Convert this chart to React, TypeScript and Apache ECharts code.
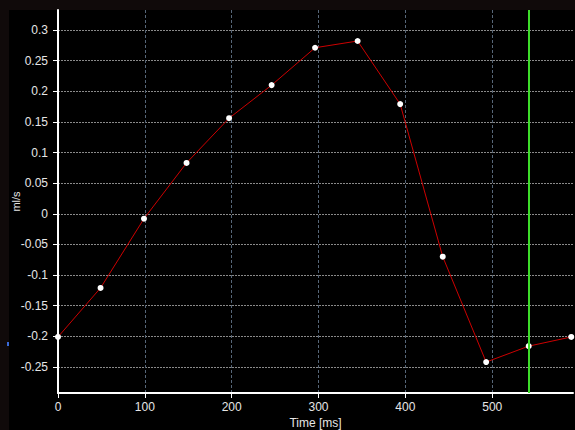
import React, { useEffect, useRef } from "react";
import * as echarts from "echarts";

const timesMs = [0, 49, 99, 148, 197, 246, 296, 345, 394, 443, 493, 542, 591];
const flowValues = [-0.201, -0.121, -0.008, 0.083, 0.156, 0.21, 0.271, 0.282, 0.179, -0.07, -0.242, -0.216, -0.201];
const cursorTime = [541.5];
const xRange = [0, 593];
const yRange = [-0.2925, 0.3326];

export default function App() {
  const ref = useRef<HTMLDivElement>(null);
  useEffect(() => {
    document.body.style.margin = "0";
    document.body.style.background = "#100a0a";
    const chart = echarts.init(ref.current!, undefined, { renderer: "svg" });
    const labelFont = { color: "#e6e6e6", fontFamily: "Liberation Sans, Arial, sans-serif", fontSize: 12 };
    chart.setOption({
      animation: false,
      backgroundColor: "#100a0a",
      graphic: [
        { type: "rect", z: -10, shape: { x: 9, y: 10, width: 566, height: 420 }, style: { fill: "#000000" } },
        { type: "rect", z: 10, shape: { x: 7, y: 342, width: 2, height: 4 }, style: { fill: "#3a6ad8" } },
      ],
      grid: { left: 58, top: 10, right: 2, bottom: 37, containLabel: false, outerBoundsMode: "none" },
      xAxis: {
        type: "value",
        min: xRange[0],
        max: xRange[1],
        splitNumber: 6,
        name: "Time [ms]",
        nameLocation: "middle",
        nameGap: 24,
        nameMoveOverlap: false,
        nameTextStyle: { ...labelFont, fontSize: 12 },
        axisLine: { onZero: false, lineStyle: { color: "#ffffff", width: 2 } },
        axisTick: { show: true, length: 5, lineStyle: { color: "#ffffff" } },
        axisLabel: { ...labelFont, margin: 8, showMaxLabel: false },
        splitLine: {
          show: true,
          showMinLine: false,
          showMaxLine: false,
          lineStyle: { color: "#566678", type: [3, 2], width: 1 },
        },
      },
      yAxis: {
        type: "value",
        min: yRange[0],
        max: yRange[1],
        splitNumber: 12,
        name: "ml/s",
        nameLocation: "middle",
        nameGap: 37,
        nameMoveOverlap: false,
        nameRotate: 90,
        nameTextStyle: { ...labelFont, fontSize: 11 },
        axisLine: { show: true, onZero: false, lineStyle: { color: "#ffffff", width: 2 } },
        axisTick: { show: true, length: 5, lineStyle: { color: "#ffffff" } },
        axisLabel: { ...labelFont, margin: 10, showMinLabel: false, showMaxLabel: false },
        splitLine: {
          show: true,
          showMinLine: false,
          showMaxLine: false,
          lineStyle: { color: "#8a8a8a", type: [2, 1], width: 1 },
        },
      },
      series: [
        {
          type: "line",
          data: timesMs.map((t, i) => [t, flowValues[i]]),
          lineStyle: { color: "#cc0000", width: 1 },
          symbol: "circle",
          symbolSize: 6,
          itemStyle: { color: "#ffffff", borderWidth: 0 },
          markLine: {
            silent: true,
            symbol: ["none", "none"],
            label: { show: false },
            lineStyle: { color: "#3ddc2a", width: 2, type: "solid" },
            data: cursorTime.map((x) => ({ xAxis: x })),
          },
        },
      ],
    });
    return () => chart.dispose();
  }, []);
  return <div ref={ref} style={{ width: 575, height: 430 }} />;
}
